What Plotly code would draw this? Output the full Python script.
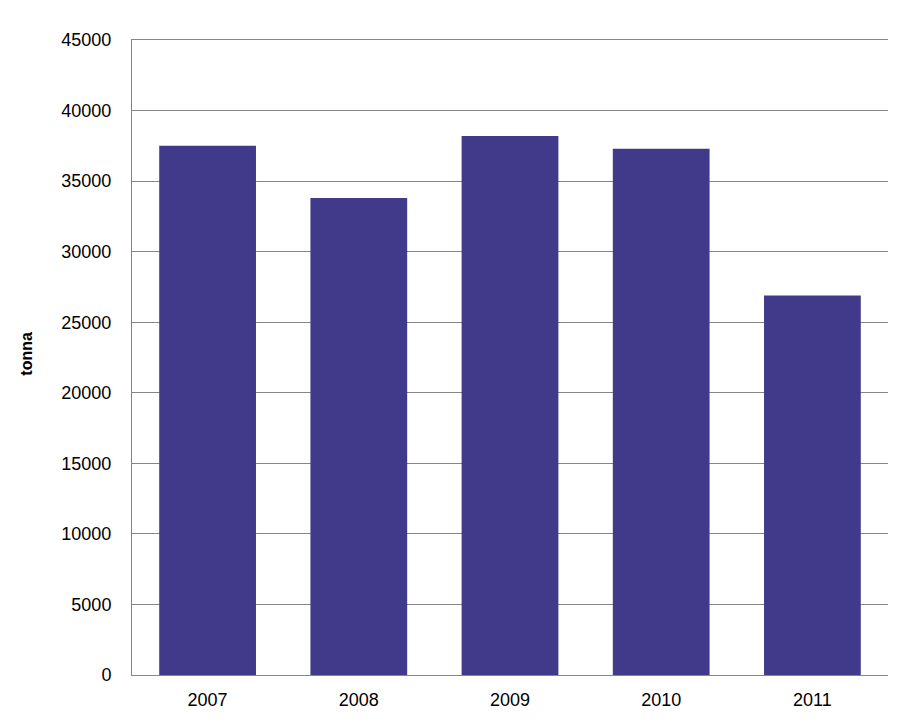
import plotly.graph_objects as go

years = ["2007", "2008", "2009", "2010", "2011"]
tonnes = [37500, 33800, 38200, 37300, 26900]
y_ticks = [0, 5000, 10000, 15000, 20000, 25000, 30000, 35000, 40000, 45000]

W, H = 910, 727
L, R, T, B = 132, 22, 40, 52

fig = go.Figure(go.Bar(x=years, y=tonnes, marker=dict(color="#41398A", line=dict(width=0))))

fig.update_layout(
    width=W, height=H,
    margin=dict(l=L, r=R, t=T, b=B, pad=0),
    paper_bgcolor="white", plot_bgcolor="white",
    bargap=0.36,
    showlegend=False,
    font=dict(family="Liberation Sans, Arial, sans-serif", color="black"),
    xaxis=dict(
        showline=True, linecolor="#868686", linewidth=1, mirror=True,
        showgrid=False, ticks="", tickfont=dict(size=18),
        ticklabelstandoff=8,
    ),
    yaxis=dict(
        range=[0, 45000], tickvals=y_ticks, ticktext=[str(v) for v in y_ticks],
        showline=True, linecolor="#868686", linewidth=1,
        showgrid=True, gridcolor="#868686", gridwidth=1,
        zeroline=False, ticks="", tickfont=dict(size=18),
        ticklabelstandoff=16,
    ),
    annotations=[dict(
        text="<b>tonna</b>", textangle=-90, xref="paper", yref="paper",
        x=(27 - L) / (W - L - R), y=0.506, xanchor="center", yanchor="middle",
        showarrow=False, font=dict(size=16, color="black"),
    )],
)

fig.write_html("out.html")
